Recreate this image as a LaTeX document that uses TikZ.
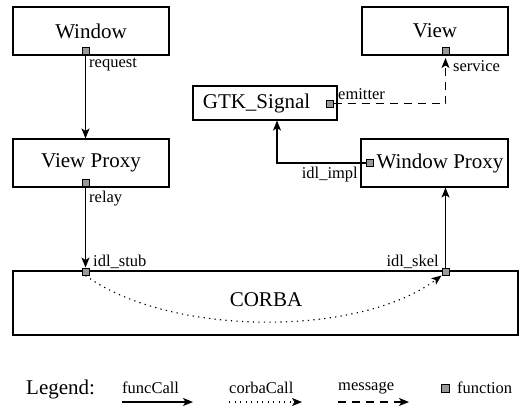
\documentclass[tikz,border=0pt]{standalone}
\usepackage{fontspec}
\setmainfont{Liberation Serif}
\usetikzlibrary{arrows.meta,calc}

\definecolor{portgray}{RGB}{153,153,153}

\tikzset{
  box/.style={draw, line width=1.1pt, inner sep=0pt, font=\fontsize{21}{24}\selectfont},
  boxtext/.style={inner sep=0pt, font=\fontsize{21}{24}\selectfont},
  port/.style={draw, line width=1pt, fill=portgray, minimum size=7pt, inner sep=0pt},
  lbl/.style={inner sep=0pt, font=\fontsize{16.5}{19}\selectfont},
  tip/.style={-{Stealth[length=10pt,width=8pt,inset=2.5pt]}},
  funccall/.style={tip, line width=1.1pt},
  corbacall/.style={tip, line width=1.1pt, dash pattern=on 1.3pt off 4.2pt},
  message/.style={tip, line width=1.1pt, dash pattern=on 8pt off 6pt},
}

\begin{document}
\begin{tikzpicture}[x=1pt, y=-1pt]
\useasboundingbox (0,0) rectangle (519,408);

% components
\node[box, minimum width=156pt, minimum height=48pt] (window) at (91,31) {Window};
\node[box, minimum width=146pt, minimum height=48pt] (view) at (435,31) {View};
\node[box, minimum width=144pt, minimum height=34pt] (gtk) at (265,103) {};
\node[boxtext] (gtktext) at (256.5,103) {GTK\_Signal};
\node[box, minimum width=156pt, minimum height=48pt] (vproxy) at (91,163) {View Proxy};
\node[box, minimum width=147pt, minimum height=48pt] (wproxy) at (434.5,163) {};
\node[boxtext] (wproxytext) at (440,163) {Window Proxy};
\node[box, minimum width=505pt, minimum height=64pt] (corba) at (265.5,303) {};
\node[boxtext] (corbatext) at (266,300) {CORBA};

% function ports
\node[port] (request) at (85.5,51) {};
\node[port] (relay) at (85.5,183) {};
\node[port] (stub) at (85.5,271.5) {};
\node[port] (skel) at (445.5,271.5) {};
\node[port] (service) at (445.5,51) {};
\node[port] (emitter) at (329.5,103.5) {};
\node[port] (impl) at (369.5,163) {};

% port names
\node[lbl, anchor=west] at (89,65) {request};
\node[lbl, anchor=west] at (89,199) {relay};
\node[lbl, anchor=west] at (93,262) {idl\_stub};
\node[lbl, anchor=east] at (439,262) {idl\_skel};
\node[lbl, anchor=west] at (453,66) {service};
\node[lbl, anchor=west] at (338,94) {emitter};
\node[lbl, anchor=east] at (358,175) {idl\_impl};

% calls
\draw[funccall] (request.south) -- (request.south |- vproxy.north);
\draw[funccall] (relay.south) -- (stub.north);
\draw[funccall] (skel.north) -- (skel.north |- wproxy.south);
\draw[funccall] (impl.west) -| ([xshift=12pt]gtk.south);
\draw[message] (emitter.east) -| ([yshift=-3pt]service.south);
\draw[corbacall] (stub.south) .. controls (170,337) and (360,337) .. (skel.south west);

% legend
\node[boxtext, anchor=west] (legend) at (26,389) {Legend:};
\coordinate (fa) at (122,402);
\coordinate (fb) at (193,402);
\coordinate (ca) at (229,402);
\coordinate (cb) at (302,402);
\coordinate (ma) at (338,402);
\coordinate (mb) at (409,402);
\node[lbl, anchor=west] (lfunc) at (122,388) {funcCall};
\node[lbl, anchor=west] (lcorba) at (229,388) {corbaCall};
\node[lbl, anchor=west] (lmsg) at (338,388) {message};
\draw[funccall] (fa) -- (fb);
\draw[corbacall] (ca) -- (cb);
\draw[message] (ma) -- (mb);
\node[port, minimum size=8pt, line width=0.8pt] (lport) at (445.5,388) {};
\node[lbl, anchor=west] (lfunction) at (457,388) {function};
\end{tikzpicture}
\end{document}
